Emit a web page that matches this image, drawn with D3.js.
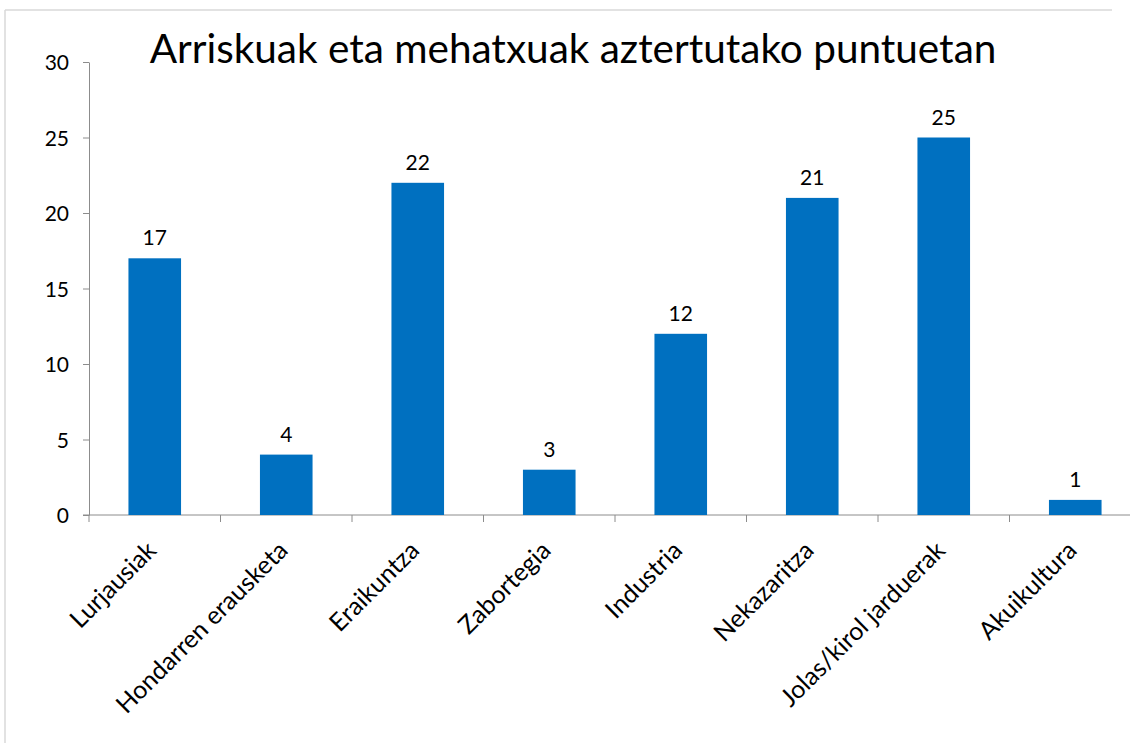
<!DOCTYPE html>
<html>
<head>
<meta charset="utf-8">
<script src="https://cdn.jsdelivr.net/npm/d3@7"></script>
<style>
  html, body { margin: 0; padding: 0; background: #fff; }
  svg { display: block; }
  text { font-family: Lato, "Open Sans", sans-serif; fill: #000; }
</style>
</head>
<body>
<svg id="chart" width="1130" height="743"></svg>
<script>
// Risk and threat counts per activity at the surveyed points
const categories = ["Lurjausiak", "Hondarren erausketa", "Eraikuntza", "Zabortegia",
                    "Industria", "Nekazaritza", "Jolas/kirol jarduerak", "Akuikultura"];
const counts = [17, 4, 22, 3, 12, 21, 25, 1];
const yTicks = [0, 5, 10, 15, 20, 25, 30];
const title = "Arriskuak eta mehatxuak aztertutako puntuetan";

const svg = d3.select("#chart");
const W = 1130, H = 743;
const plotLeft = 89, plotRight = 1141, plotTop = 62, plotBottom = 515;

// Outer chart frame (top and left edges visible)
svg.append("line").attr("x1", 5).attr("x2", 1112).attr("y1", 10).attr("y2", 10)
  .attr("stroke", "#d9d9d9").attr("stroke-width", 1.5);
svg.append("line").attr("x1", 5).attr("x2", 5).attr("y1", 10).attr("y2", H)
  .attr("stroke", "#d9d9d9").attr("stroke-width", 1.5);

const x = d3.scaleBand().domain(categories).range([plotLeft, plotRight]).paddingInner(0.6).paddingOuter(0.3);
const y = d3.scaleLinear().domain([0, 30]).range([plotBottom, plotTop]);

// Y axis
const yAxis = svg.append("g").attr("transform", `translate(${plotLeft},0)`)
  .call(d3.axisLeft(y).tickValues(yTicks).tickSize(6).tickPadding(14).tickSizeOuter(0));
yAxis.select(".domain").attr("stroke", "#8c8c8c");
yAxis.selectAll(".tick line").attr("stroke", "#8c8c8c");
yAxis.selectAll(".tick text").style("font-size", "21px").attr("dy", "0.36em");

// X axis line with tick marks at band boundaries
const step = x.step();
const bounds = d3.range(categories.length + 1).map(i => plotLeft + i * step);
svg.append("line").attr("x1", plotLeft - 6).attr("x2", plotRight).attr("y1", plotBottom).attr("y2", plotBottom)
  .attr("stroke", "#8c8c8c");
svg.selectAll(".xtick").data(bounds).enter().append("line")
  .attr("x1", d => d).attr("x2", d => d).attr("y1", plotBottom).attr("y2", plotBottom + 7)
  .attr("stroke", "#8c8c8c");

// Bars
svg.selectAll(".bar").data(counts).enter().append("rect")
  .attr("x", (d, i) => x(categories[i]))
  .attr("y", d => y(d))
  .attr("width", x.bandwidth())
  .attr("height", d => y(0) - y(d))
  .attr("fill", "#0070C0");

// Value labels
svg.selectAll(".val").data(counts).enter().append("text")
  .attr("x", (d, i) => x(categories[i]) + x.bandwidth() / 2)
  .attr("y", d => y(d) - 13)
  .attr("text-anchor", "middle")
  .style("font-size", "21px")
  .text(d => d);

// Category labels, rotated
svg.selectAll(".cat").data(categories).enter().append("text")
  .attr("transform", d => `translate(${x(d) + x.bandwidth() / 2 + 3},${plotBottom + 37}) rotate(-45)`)
  .attr("text-anchor", "end")
  .style("font-size", "25px")
  .text(d => d);

// Title
svg.append("text")
  .attr("x", 573).attr("y", 63)
  .attr("text-anchor", "middle")
  .style("font-size", "40.5px")
  .text(title);
</script>
</body>
</html>
